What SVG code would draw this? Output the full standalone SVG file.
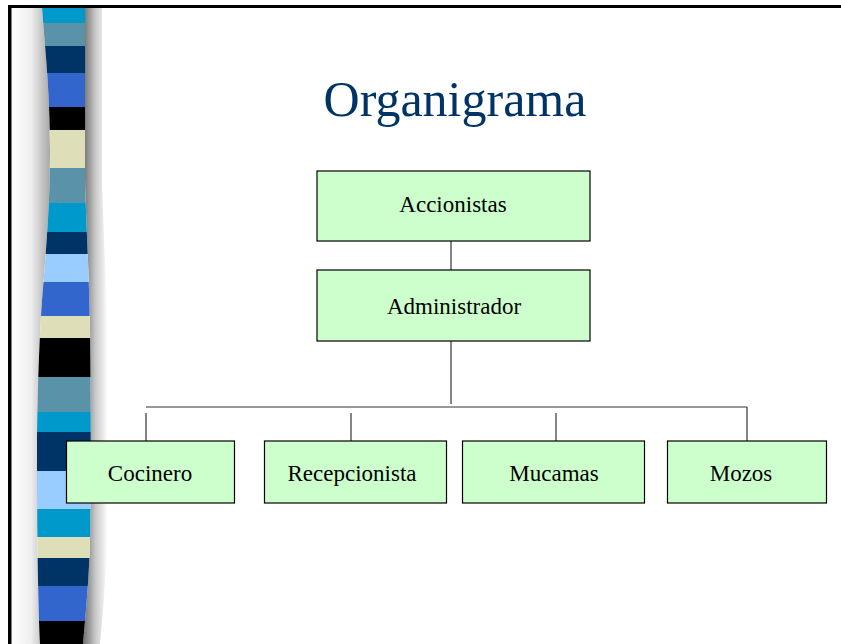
<svg xmlns="http://www.w3.org/2000/svg" width="841" height="644" viewBox="0 0 841 644">
<defs>
<style>
.box{fill:#CCFFCC;stroke:#000;stroke-width:1.2}
.lbl{font-family:"Liberation Serif","Times New Roman",serif;font-size:23px;fill:#000;text-anchor:middle}
.conn{stroke:#333;stroke-width:1.2;fill:none}
</style>
<linearGradient id="lsh" x1="0" y1="0" x2="1" y2="0">
<stop offset="0" stop-color="#fff"/><stop offset="0.5" stop-color="#eee"/><stop offset="1" stop-color="#a8a8a8"/>
</linearGradient>
<linearGradient id="rsh" x1="0" y1="0" x2="1" y2="0">
<stop offset="0" stop-color="#6e6e6e"/><stop offset="0.5" stop-color="#c8c8c8"/><stop offset="1" stop-color="#fff"/>
</linearGradient>
<clipPath id="stripeClip">
<path d="M42,7 C45,50 50,90 50,150 C50,200 47,240 42,300 C38,360 37,420 37,460 C37,540 38,600 40,644 L83,644 C86,610 89,580 90,540 C91,480 91,400 90,330 C89,270 86,220 85,180 L85,7 Z"/>
</clipPath>
</defs>
<rect width="841" height="644" fill="#fff"/>
<g id="stripe">
<path d="M12,7 L42,7 C45,50 50,90 50,150 C50,200 47,240 42,300 C38,360 37,420 37,460 C37,540 38,600 40,644 L12,644 Z" fill="url(#lsh)"/>
<path d="M85,7 L85,180 C86,220 89,270 90,330 C91,400 91,480 90,540 C89,580 86,610 83,644 L100,644 C103,610 106,580 107,540 C108,480 108,400 107,330 C106,270 103,220 102,180 L102,7 Z" fill="url(#rsh)"/>
<g clip-path="url(#stripeClip)">
<rect x="30" y="6" width="70" height="17" fill="#0099CC"/>
<rect x="30" y="23" width="70" height="23" fill="#5A92A9"/>
<rect x="30" y="46" width="70" height="27" fill="#003366"/>
<rect x="30" y="73" width="70" height="34" fill="#3366CC"/>
<rect x="30" y="107" width="70" height="23" fill="#000"/>
<rect x="30" y="130" width="70" height="38" fill="#DEDEB8"/>
<rect x="30" y="168" width="70" height="35" fill="#5A92A9"/>
<rect x="30" y="203" width="70" height="29" fill="#0099CC"/>
<rect x="30" y="232" width="70" height="22" fill="#003366"/>
<rect x="30" y="254" width="70" height="28" fill="#99CCFF"/>
<rect x="30" y="282" width="70" height="34" fill="#3366CC"/>
<rect x="30" y="316" width="70" height="22" fill="#DEDEB8"/>
<rect x="30" y="338" width="70" height="39" fill="#000"/>
<rect x="30" y="377" width="70" height="35" fill="#5A92A9"/>
<rect x="30" y="412" width="70" height="20" fill="#0099CC"/>
<rect x="30" y="432" width="70" height="39" fill="#003366"/>
<rect x="30" y="471" width="70" height="38" fill="#99CCFF"/>
<rect x="30" y="509" width="70" height="28" fill="#0099CC"/>
<rect x="30" y="537" width="70" height="21" fill="#DEDEB8"/>
<rect x="30" y="558" width="70" height="28" fill="#003366"/>
<rect x="30" y="586" width="70" height="35" fill="#3366CC"/>
<rect x="30" y="621" width="70" height="23" fill="#000"/>
</g>
</g>
<g id="frame">
<rect x="8" y="5" width="833" height="3" fill="#000"/>
<rect x="8" y="5" width="3.5" height="639" fill="#000"/>
</g>
<text id="title" x="455" y="116" font-family="'Liberation Serif','Times New Roman',serif" font-size="50" fill="#003366" text-anchor="middle">Organigrama</text>
<g id="connectors">
<line class="conn" x1="451" y1="241" x2="451" y2="270"/>
<line class="conn" x1="451" y1="341" x2="451" y2="404"/>
<line class="conn" x1="146" y1="407" x2="747" y2="407"/>
<line class="conn" x1="146" y1="413" x2="146" y2="441"/>
<line class="conn" x1="351" y1="413" x2="351" y2="441"/>
<line class="conn" x1="556" y1="413" x2="556" y2="441"/>
<line class="conn" x1="747" y1="407" x2="747" y2="441"/>
</g>
<g id="accionistas">
<rect class="box" x="317" y="171" width="273" height="70"/>
<text class="lbl" x="453" y="212">Accionistas</text>
</g>
<g id="administrador">
<rect class="box" x="317" y="270" width="273" height="71"/>
<text class="lbl" x="454" y="314">Administrador</text>
</g>
<g id="cocinero">
<rect class="box" x="66.5" y="441" width="168" height="62"/>
<text class="lbl" x="150" y="481">Cocinero</text>
</g>
<g id="recepcionista">
<rect class="box" x="264.5" y="441" width="182" height="62"/>
<text class="lbl" x="352" y="481">Recepcionista</text>
</g>
<g id="mucamas">
<rect class="box" x="462.5" y="441" width="182" height="62"/>
<text class="lbl" x="554" y="481">Mucamas</text>
</g>
<g id="mozos">
<rect class="box" x="667.5" y="441" width="159" height="62"/>
<text class="lbl" x="741" y="481">Mozos</text>
</g>
</svg>
